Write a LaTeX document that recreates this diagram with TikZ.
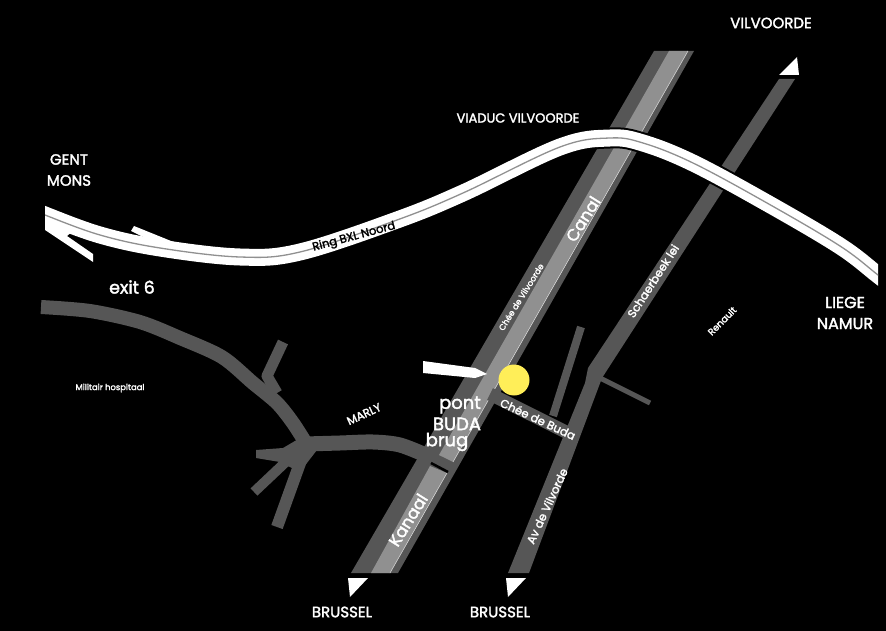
\documentclass[tikz,border=0pt]{standalone}
\usepackage{fontspec}
\setmainfont{Poppins}[FakeBold=2]
\definecolor{roadgrey}{HTML}{565656}
\definecolor{waterlight}{HTML}{909090}
\definecolor{spotyellow}{HTML}{FFEE58}
\newcommand{\ringline}{plot[smooth,tension=0.6] coordinates {(30,208) (45,215) (100,235) (160,248) (240,257) (300,252) (397,220) (463,193) (560,147) (610,138) (643,143) (693,163) (767,203) (840,246) (878,275) (900,292)}}
\tikzset{
  road/.style={draw=roadgrey,line join=round},
  place/.style={text=white,inner sep=0pt,align=center,font=\fontsize{15}{21}\selectfont},
  street/.style={text=white,inner sep=0pt,font=\fontsize{11.5}{13}\selectfont},
  tiny/.style={text=white,inner sep=0pt,font=\fontsize{8.4}{10}\selectfont},
  waterlabel/.style={text=white,inner sep=0pt,font=\fontsize{16.5}{18}\selectfont},
  budalabel/.style={text=white,inner sep=0pt,font=\fontsize{18}{20}\selectfont},
  head/.style={fill=white,draw=none},
}
\begin{document}
\begin{tikzpicture}[x=1pt,y=-1pt]
\fill [black] (0,0) rectangle (886,631);
\useasboundingbox (0,0) rectangle (886,631);
% canal
\fill [roadgrey] (654,51) -- (694,51) -- (398,573) -- (351,573) -- cycle;
\fill [waterlight] (669,51) -- (688,51) -- (453,462) -- (439,455) -- cycle;
\fill [waterlight] (430,466) -- (447,473) -- (390,573) -- (371,573) -- cycle;
\draw [white!70!waterlight,line width=0.5] (688,51) -- (453,462);
\draw [white!70!waterlight,line width=0.5] (447,473) -- (390,573);
\draw [black,line width=2.5] (431,463) -- (448,472);
% side roads
\fill [roadgrey] (779,79) -- (795,79) -- (602,378) -- (529,573) -- (508,573) -- (585,383) -- (588,368) -- cycle;
\draw [road,line width=13] (490,394) -- (570,434);
\draw [road,line width=8] (581,327) -- (553,416);
\draw [road,line width=5] (600,378) -- (650,403);
% Marly roads
\draw [road,line width=14] plot[smooth] coordinates {(41,307) (90,311) (140,322) (180,338) (222,357) (253,383) (277,403) (293,423) (307,445)};
\draw [road,line width=11] (283,342) -- (267,376) -- (277,393);
\draw [road,line width=15] plot[smooth] coordinates {(305,444) (340,443) (373,442) (400,445) (428,456)};
\fill [roadgrey] (300,438) -- (317,450) -- (300,472) -- (280,462) -- (256,458) -- (256,450) -- (283,448) -- cycle;
\draw [road,line width=10] (290,458) -- (254,492);
\draw [road,line width=12] (304,452) -- (277,527);
% ring
\begin{scope}
\clip (45,0) rectangle (878,631);
\draw [black,line width=21] \ringline;
\draw [white,line width=17] \ringline;
\fill [white] (45,215) -- (45,230) -- (93,262) -- (93,254) -- (67,236) -- (80,225) -- cycle;
\fill [white] (131,231) -- (134,226) -- (176,243) -- (165,248) -- cycle;
\draw [waterlight,line width=1.3] \ringline;
\end{scope}
% arrows
\fill [head] (348,578) -- (368,578) -- (350,597) -- cycle;
\fill [head] (506,578) -- (526,578) -- (508,597) -- cycle;
\fill [head] (779,75) -- (799,75) -- (797,57) -- cycle;
\fill [white] (423,361) -- (475,368) -- (487,374) -- (475,378) -- (423,373) -- cycle;
\fill [spotyellow] (514,380) circle (15.5);
% labels
\node [place] (vilvoorde) at (771,23) {VILVOORDE};
\node [place,font=\fontsize{13}{15}\selectfont] (viaduc) at (518,118) {VIADUC VILVOORDE};
\node [place] (gent) at (69,170) {GENT\\MONS};
\node [place,font=\fontsize{17.5}{20}\selectfont] (exit) at (132,287) {exit 6};
\node [place,font=\fontsize{16}{21}\selectfont] (liege) at (845,313) {LIEGE\\NAMUR};
\node [place] (brusselw) at (342,612) {BRUSSEL};
\node [place] (brussele) at (500,612) {BRUSSEL};
\node [budalabel] (pont) at (460,405) {pont};
\node [budalabel] (buda) at (457,424) {BUDA};
\node [budalabel] (brug) at (447,442) {brug};
\node [waterlabel,rotate=58] (canal) at (583,219) {Canal};
\node [waterlabel,rotate=58] (kanaal) at (408,520) {Kanaal};
\node [street,rotate=-25] (cheebuda) at (538,419) {Chée de Buda};
\node [street,rotate=65] (avvilv) at (547,506) {Av de Vilvorde};
\node [street,rotate=57] (schaerbeek) at (653,281) {Schaerbeek lei};
\node [street,rotate=25] (marly) at (364,414) {MARLY};
\node [street,text=black,rotate=15] (ringbxl) at (354,237) {Ring BXL Noord};
\node [tiny,rotate=58] (cheevilv) at (521,297) {Chée de Vilvoorde};
\node [tiny,rotate=45,font=\fontsize{9.4}{10}\selectfont] (renault) at (722,321) {Renault};
\node [tiny] (militair) at (110,388) {Militair hospitaal};
\end{tikzpicture}
\end{document}
